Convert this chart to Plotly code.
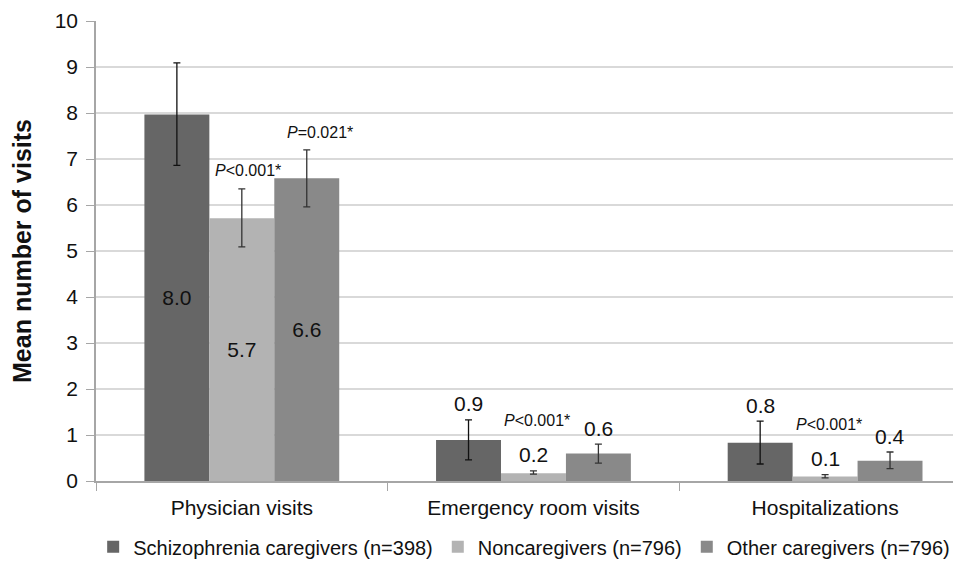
import plotly.graph_objects as go

# data
categories = ["Physician visits", "Emergency room visits", "Hospitalizations"]
groups = ["Schizophrenia caregivers (n=398)", "Noncaregivers (n=796)", "Other caregivers (n=796)"]

schizo_mean = [7.97, 0.89, 0.83]
schizo_hi = [9.09, 1.33, 1.30]
schizo_lo = [6.86, 0.46, 0.37]
schizo_lbl = ["8.0", "0.9", "0.8"]

noncare_mean = [5.71, 0.17, 0.10]
noncare_hi = [6.35, 0.22, 0.14]
noncare_lo = [5.09, 0.15, 0.07]
noncare_lbl = ["5.7", "0.2", "0.1"]

other_mean = [6.58, 0.60, 0.44]
other_hi = [7.20, 0.80, 0.63]
other_lo = [5.96, 0.39, 0.27]
other_lbl = ["6.6", "0.6", "0.4"]

p_values = ["<i>P</i>&lt;0.001*", "<i>P</i>=0.021*"]      # physician visits: noncare, other
p_small = ["<i>P</i>&lt;0.001*", "<i>P</i>&lt;0.001*"]    # ER, hospitalizations: noncare

colors = ["#666666", "#b3b3b3", "#898989"]
err_colors = ["#111111", "#333333", "#333333"]
FONT = "Liberation Sans, Arial, sans-serif"

series = [
    (schizo_mean, schizo_hi, schizo_lo, schizo_lbl),
    (noncare_mean, noncare_hi, noncare_lo, noncare_lbl),
    (other_mean, other_hi, other_lo, other_lbl),
]

bargap = 0.332
bar_w = (1 - bargap) / 3

fig = go.Figure()
for i, (mean, hi, lo, lbl) in enumerate(series):
    fig.add_trace(go.Bar(
        x=categories, y=mean, name=groups[i],
        marker=dict(color=colors[i], line=dict(width=0)),
        error_y=dict(type="data", symmetric=False,
                     array=[h - m for h, m in zip(hi, mean)],
                     arrayminus=[m - l for m, l in zip(mean, lo)],
                     color=err_colors[i], thickness=1.3, width=3.5),
        # only the tall physician bars carry their label inside
        text=[lbl[0], "", ""], textposition="inside", insidetextanchor="middle",
        textfont=dict(family=FONT, size=21, color="#111111"),
        textangle=0,
        hoverinfo="skip",
    ))

annotations = []
# value labels above the small bars
for i, (mean, hi, lo, lbl) in enumerate(series):
    for j in (1, 2):
        annotations.append(dict(
            x=j + (i - 1) * bar_w, y=hi[j], xref="x", yref="y",
            text=lbl[j], showarrow=False, yanchor="middle", yshift=16,
            font=dict(family=FONT, size=21, color="#111111"),
        ))

# p-value labels
annotations.append(dict(x=0, y=noncare_hi[0], text=p_values[0], showarrow=False,
                        yanchor="middle", yshift=18, xshift=6,
                        font=dict(family=FONT, size=16, color="#111111")))
annotations.append(dict(x=0 + bar_w, y=other_hi[0], text=p_values[1], showarrow=False,
                        yanchor="middle", yshift=17, xshift=13,
                        font=dict(family=FONT, size=16, color="#111111")))
for j in (1, 2):
    annotations.append(dict(x=j, y=noncare_hi[j], text=p_small[j - 1], showarrow=False,
                            yanchor="middle", yshift=50, xshift=4,
                            font=dict(family=FONT, size=16, color="#111111")))

# the page body adds 8px, so the figure is 8px smaller and the plot area
# runs to the right edge of the window, as in the reference
fig.update_layout(
    width=953, height=559,
    margin=dict(l=88, r=0, t=13, b=86),
    paper_bgcolor="white", plot_bgcolor="white",
    barmode="group", bargap=bargap, bargroupgap=0,
    font=dict(family=FONT, size=20, color="#111111"),
    showlegend=True,
    legend=dict(orientation="h", x=0.495, xanchor="center", y=-0.143, yanchor="middle",
                font=dict(family=FONT, size=20, color="#111111"),
                itemwidth=30, traceorder="normal"),
    annotations=annotations,
)
fig.update_xaxes(
    range=[-0.5, 2.466], showline=True, linecolor="#a6a6a6", linewidth=1.5,
    ticks="outside", tickson="boundaries", ticklen=8, tickcolor="#a6a6a6",
    ticklabelstandoff=7,
    tickfont=dict(family=FONT, size=21, color="#111111"),
    showgrid=False,
)
fig.update_yaxes(
    range=[0, 10], dtick=1, showline=True, linecolor="#a6a6a6", linewidth=1.5,
    ticks="outside", ticklen=8, tickcolor="#a6a6a6", ticklabelstandoff=4,
    gridcolor="#d9d9d9", gridwidth=1.5, zeroline=False,
    tickfont=dict(family=FONT, size=21, color="#111111"),
    title=dict(text="<b>Mean number of visits</b>", standoff=20,
               font=dict(family=FONT, size=25, color="#111111")),
)

fig.write_html("out.html")
